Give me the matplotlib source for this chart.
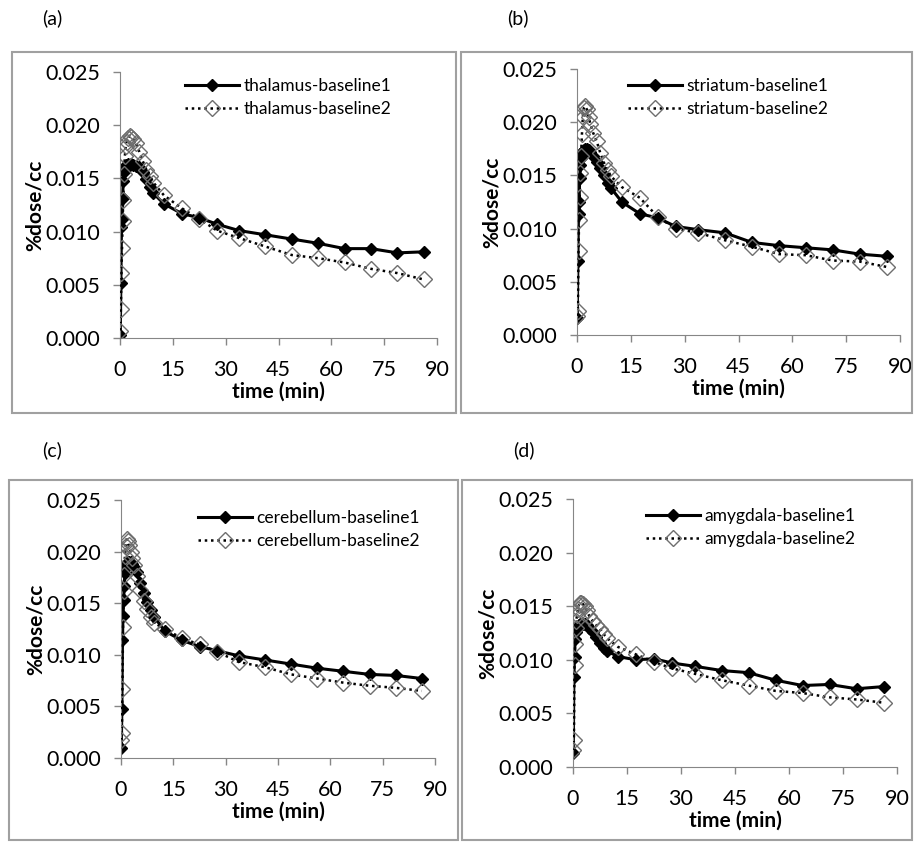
import matplotlib
matplotlib.use("Agg")
import matplotlib.pyplot as plt
from matplotlib.patches import Rectangle

plt.rcParams["font.family"] = ["Lato", "DejaVu Sans"]

# frame mid-times (min)
time = [0.08, 0.25, 0.42, 0.58, 0.75, 0.92, 1.12, 1.38, 1.62, 1.88,
        2.25, 2.75, 3.25, 3.75, 4.5, 5.5, 6.5, 7.5, 8.5, 9.5,
        12.5, 17.5, 22.5, 27.5, 33.75, 41.25, 48.75, 56.25, 63.75, 71.25, 78.75, 86.25]

thalamus_b1 = [0.0003, 0.0052, 0.0104, 0.0112, 0.0132, 0.0148, 0.0156, 0.0160, 0.0163, 0.0162,
               0.0164, 0.0163, 0.0164, 0.0163, 0.0162, 0.0161, 0.0156, 0.0149, 0.0142, 0.0136,
               0.0126, 0.0117, 0.0113, 0.0107, 0.0101, 0.0097, 0.0093, 0.0089, 0.0084, 0.0084, 0.0080, 0.0081]
thalamus_b2 = [0.0007, 0.0027, 0.0061, 0.0085, 0.0110, 0.0130, 0.0154, 0.0171, 0.0180, 0.0184,
               0.0188, 0.0190, 0.0189, 0.0187, 0.0183, 0.0175, 0.0166, 0.0158, 0.0152, 0.0146,
               0.0134, 0.0122, 0.0112, 0.0101, 0.0094, 0.0086, 0.0078, 0.0075, 0.0071, 0.0065, 0.0061, 0.0055]

striatum_b1 = [0.0016, 0.0070, 0.0114, 0.0125, 0.0148, 0.0160, 0.0166, 0.0170, 0.0173, 0.0174,
               0.0175, 0.0175, 0.0174, 0.0172, 0.0168, 0.0163, 0.0157, 0.0150, 0.0143, 0.0138,
               0.0125, 0.0114, 0.0110, 0.0102, 0.0099, 0.0096, 0.0087, 0.0084, 0.0082, 0.0080, 0.0076, 0.0074]
striatum_b2 = [0.0018, 0.0023, 0.0079, 0.0108, 0.0130, 0.0152, 0.0168, 0.0189, 0.0205, 0.0213,
               0.0215, 0.0212, 0.0205, 0.0198, 0.0190, 0.0182, 0.0171, 0.0162, 0.0155, 0.0149,
               0.0139, 0.0129, 0.0111, 0.0100, 0.0096, 0.0089, 0.0083, 0.0076, 0.0075, 0.0070, 0.0069, 0.0064]

cerebellum_b1 = [0.0010, 0.0047, 0.0114, 0.0138, 0.0153, 0.0167, 0.0179, 0.0185, 0.0189, 0.0190,
                 0.0190, 0.0189, 0.0188, 0.0185, 0.0180, 0.0170, 0.0160, 0.0151, 0.0143, 0.0137,
                 0.0123, 0.0114, 0.0108, 0.0104, 0.0099, 0.0095, 0.0091, 0.0087, 0.0084, 0.0081, 0.0080, 0.0077]
cerebellum_b2 = [0.0017, 0.0024, 0.0067, 0.0127, 0.0162, 0.0177, 0.0196, 0.0205, 0.0212, 0.0210,
                 0.0206, 0.0200, 0.0194, 0.0187, 0.0176, 0.0163, 0.0152, 0.0144, 0.0137, 0.0131,
                 0.0125, 0.0116, 0.0110, 0.0103, 0.0093, 0.0088, 0.0081, 0.0077, 0.0073, 0.0070, 0.0068, 0.0065]

amygdala_b1 = [0.0013, 0.0084, 0.0103, 0.0119, 0.0126, 0.0128, 0.0130, 0.0131, 0.0132, 0.0133,
               0.0133, 0.0133, 0.0133, 0.0132, 0.0130, 0.0126, 0.0121, 0.0116, 0.0111, 0.0108,
               0.0103, 0.0100, 0.0101, 0.0097, 0.0094, 0.0090, 0.0088, 0.0081, 0.0076, 0.0077, 0.0073, 0.0075]
amygdala_b2 = [0.0016, 0.0025, 0.0095, 0.0115, 0.0130, 0.0136, 0.0142, 0.0147, 0.0151, 0.0153,
               0.0153, 0.0152, 0.0150, 0.0146, 0.0141, 0.0136, 0.0132, 0.0129, 0.0124, 0.0120,
               0.0112, 0.0105, 0.0098, 0.0092, 0.0087, 0.0081, 0.0076, 0.0071, 0.0069, 0.0065, 0.0063, 0.0060]

W, H = 915, 846
GRAY = "#868686"

# (name, panel letter, b1, b2, axes box px [x0, x90, y0.025, y0], frame px, label px, legend anchor px)
panels = [
    ("thalamus", "(a)", thalamus_b1, thalamus_b2, (120, 437, 72, 338), (12, 52, 456, 413), (52, 18), (185, 78)),
    ("striatum", "(b)", striatum_b1, striatum_b2, (577, 900, 69, 335), (461, 52, 912, 413), (518, 18), (628, 78)),
    ("cerebellum", "(c)", cerebellum_b1, cerebellum_b2, (121, 435, 500, 758), (9, 480, 458, 840), (52, 450), (198, 510)),
    ("amygdala", "(d)", amygdala_b1, amygdala_b2, (573, 897, 499, 767), (462, 480, 912, 840), (524, 450), (646, 508)),
]

fig = plt.figure(figsize=(W / 100, H / 100), dpi=100)

for name, letter, b1, b2, box, frame, lab, leg in panels:
    x0, x1, ytop, ybot = box
    ax = fig.add_axes([x0 / W, 1 - ybot / H, (x1 - x0) / W, (ybot - ytop) / H])

    ax.plot(time, b1, color="black", lw=2.2, marker="D", ms=6.5,
            mfc="black", mec="black", label=f"{name}-baseline1", zorder=2)
    ax.plot(time, b2, color="black", lw=1.8, ls=(0, (1, 1.5)), marker="D", ms=8.5,
            mfc="none", mec="#6e6e6e", mew=1.0, label=f"{name}-baseline2", zorder=3)

    ax.set_xlim(0, 90)
    ax.set_ylim(0, 0.025)
    ax.set_xticks(range(0, 91, 15))
    ax.set_yticks([0, 0.005, 0.010, 0.015, 0.020, 0.025])
    ax.set_yticklabels(["0.000", "0.005", "0.010", "0.015", "0.020", "0.025"])
    ax.tick_params(direction="out", length=5, width=1, color=GRAY, labelsize=15.5)
    ax.tick_params(axis="x", pad=11)
    ax.tick_params(axis="y", pad=9)
    ax.patch.set_alpha(0)
    for s in ("top", "right"):
        ax.spines[s].set_visible(False)
    for s in ("left", "bottom"):
        ax.spines[s].set_color(GRAY)
        ax.spines[s].set_clip_on(False)
    ax.set_xlabel("time (min)", fontsize=15, fontweight="bold", labelpad=1)
    ax.set_ylabel("%dose/cc", fontsize=15, fontweight="bold", labelpad=1)

    lx = (leg[0] - x0) / (x1 - x0)
    ly = (ybot - leg[1]) / (ybot - ytop)
    ax.legend(loc="upper left", bbox_to_anchor=(lx, ly), frameon=False, fontsize=12.5,
              handlelength=3.1, handletextpad=0.25, labelspacing=0.4,
              borderaxespad=0, borderpad=0)

    fx0, fy0, fx1, fy1 = frame
    fig.patches.append(Rectangle((fx0 / W, 1 - fy1 / H), (fx1 - fx0) / W, (fy1 - fy0) / H,
                                 transform=fig.transFigure, fill=False,
                                 edgecolor="#a0a0a0", lw=1.5))
    fig.text(lab[0] / W, 1 - lab[1] / H, letter, fontsize=14, ha="center", va="center")

fig.savefig("out.png", dpi=100)
